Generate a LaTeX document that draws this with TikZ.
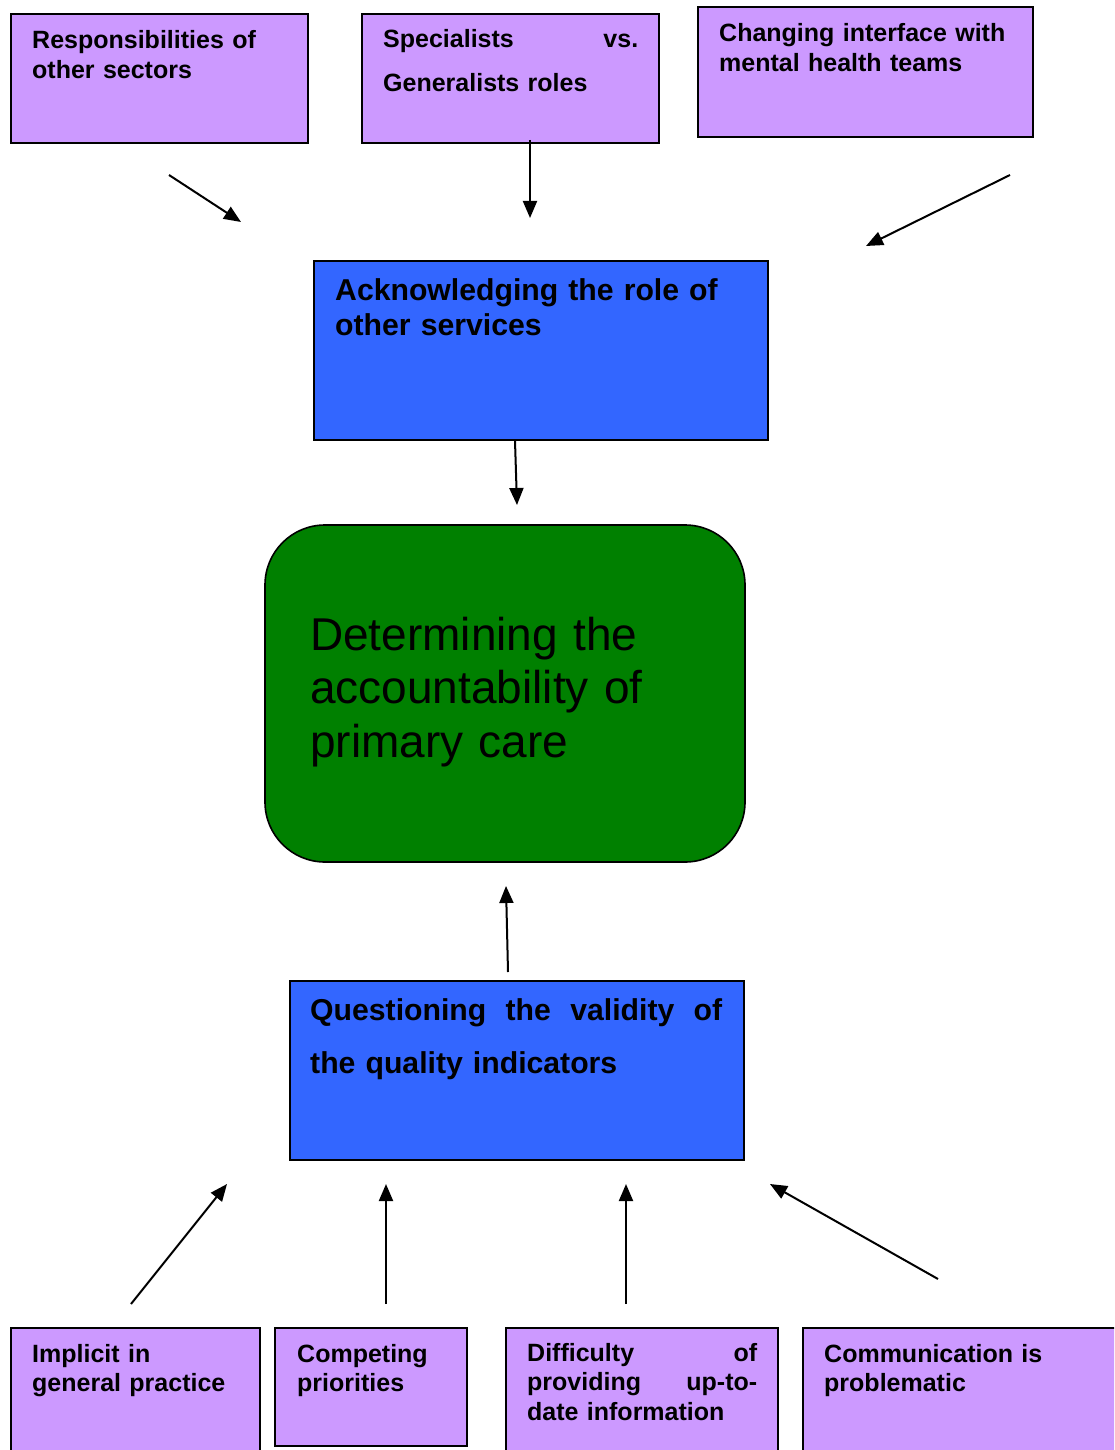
\documentclass[tikz,border=0pt]{standalone}
\usepackage{fontspec}
\setmainfont{Liberation Sans}
\usetikzlibrary{arrows.meta}
\definecolor{lilac}{HTML}{CC99FF}
\definecolor{royal}{HTML}{3366FF}
\definecolor{leaf}{HTML}{008000}
\begin{document}
\begin{tikzpicture}[x=1pt,y=-1pt,
  box/.style={draw=black, line width=1.6pt, inner sep=0pt, outer sep=0pt},
  factor/.style={box, fill=lilac},
  theme/.style={box, fill=royal},
  core/.style={box, fill=leaf, rounded corners=60pt},
  small/.style={anchor=base west, inner sep=0pt, align=left,
    font=\bfseries\fontsize{25}{29.5}\selectfont},
  mid/.style={anchor=base west, inner sep=0pt, align=left,
    font=\bfseries\fontsize{30.2}{35}\selectfont},
  arr/.style={line width=2pt, -{Triangle[length=17pt,width=14pt]}}]

\clip (0,0) rectangle (1114,1450);
\fill[white] (0,0) rectangle (1114,1450);

% top factors
\node[factor, minimum width=297pt, minimum height=129pt] (resp) at (159.5,78.5) {};
\node[small, text width=270pt] (resptxt) at (32,49) {Responsibilities of\\other sectors};

\node[factor, minimum width=297pt, minimum height=129pt] (spec) at (510.5,78.5) {};
\node[small, text width=255pt, font=\bfseries\fontsize{25}{44}\selectfont] (spectxt) at (383,48) {Specialists\hfill vs.\\Generalists roles};

\node[factor, minimum width=335pt, minimum height=130pt] (chan) at (865.5,72) {};
\node[small, text width=300pt] (chantxt) at (719,42) {Changing interface with\\mental health teams};

% acknowledging
\node[theme, minimum width=454pt, minimum height=179pt] (ack) at (541,350.5) {};
\node[mid, text width=420pt] (acktxt) at (335,300) {Acknowledging the role of\\other services};

% central theme
\node[core, minimum width=480pt, minimum height=337pt] (acc) at (505,693.5) {};
\node[anchor=base west, inner sep=0pt, align=left, text width=420pt,
  font=\fontsize{46}{53.5}\selectfont] (acctxt) at (310,650)
  {Determining the\\accountability of\\primary care};

% questioning
\node[theme, minimum width=454pt, minimum height=179pt] (que) at (517,1070.5) {};
\node[mid, text width=412pt, font=\bfseries\fontsize{30.2}{53}\selectfont] (quetxt) at (310,1020)
  {Questioning\hfill the\hfill validity\hfill of\\the quality indicators};

% bottom factors
\node[factor, minimum width=249pt, minimum height=140pt] (impl) at (135.5,1398) {};
\node[small, text width=220pt] (impltxt) at (32,1362) {Implicit in\\general practice};

\node[factor, minimum width=192pt, minimum height=118pt] (comp) at (371,1387) {};
\node[small, text width=170pt] (comptxt) at (297,1362) {Competing\\priorities};

\node[factor, minimum width=272pt, minimum height=140pt] (diff) at (642,1398) {};
\node[small, text width=230pt] (difftxt) at (527,1361) {Difficulty\hfill of\\providing\hfill up-to-\\date information};

\node[factor, minimum width=330pt, minimum height=140pt] (comm) at (968,1398) {};
\node[small, text width=280pt] (commtxt) at (824,1362) {Communication is\\problematic};

% connector end points
\coordinate (r1) at (169,175);   \coordinate (r2) at (241,222);
\coordinate (s1) at (530,140);   \coordinate (s2) at (530,218);
\coordinate (c1) at (1010,175);  \coordinate (c2) at (866,246);
\coordinate (k1) at (515,441);   \coordinate (k2) at (517,505);
\coordinate (q1) at (508,972);   \coordinate (q2) at (506,886);
\coordinate (i1) at (131,1304);  \coordinate (i2) at (227,1184);
\coordinate (p1) at (386,1304);  \coordinate (p2) at (386,1184);
\coordinate (d1) at (626,1304);  \coordinate (d2) at (626,1184);
\coordinate (m1) at (938,1279);  \coordinate (m2) at (770,1184);

\draw[arr] (r1) -- (r2);
\draw[arr] (s1) -- (s2);
\draw[arr] (c1) -- (c2);
\draw[arr] (k1) -- (k2);
\draw[arr] (q1) -- (q2);
\draw[arr] (i1) -- (i2);
\draw[arr] (p1) -- (p2);
\draw[arr] (d1) -- (d2);
\draw[arr] (m1) -- (m2);
\end{tikzpicture}
\end{document}
